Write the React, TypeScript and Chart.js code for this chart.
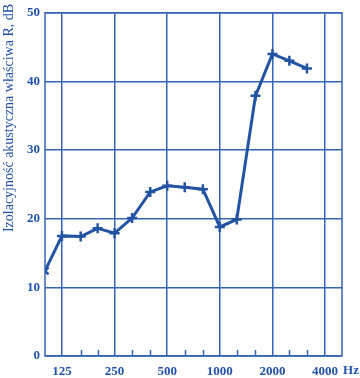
import React, { useEffect, useRef } from "react";
import { Chart, registerables } from "chart.js";

Chart.register(...registerables);

const frequencies = [100, 125, 160, 200, 250, 315, 400, 500, 630, 800, 1000, 1250, 1600, 2000, 2500, 3150];
const isolation = [12.4, 17.5, 17.4, 18.6, 17.9, 20.1, 23.9, 24.8, 24.6, 24.3, 18.8, 19.9, 37.9, 44.0, 43.0, 41.9];
const majorTicks = [125, 250, 500, 1000, 2000, 4000];
const minorTicks = [160, 200, 315, 400, 630, 800, 1250, 1600, 2500, 3150];
const yTicks = [0, 10, 20, 30, 40, 50];
const yTitle = "Izolacyjność akustyczna właściwa R, dB";
const unitLabel = "Hz";

const LINE = "#2353a3";
const GRID = "#3565b5";
const TEXT = "#2151a8";

export default function App() {
  const ref = useRef<HTMLCanvasElement>(null);
  useEffect(() => {
    const extras = {
      id: "extras",
      afterDraw(chart: any) {
        const { ctx, chartArea } = chart;
        const xs = chart.scales.x;
        ctx.save();
        ctx.strokeStyle = GRID;
        ctx.lineWidth = 1.5;
        ctx.strokeRect(chartArea.left, chartArea.top, chartArea.right - chartArea.left, chartArea.bottom - chartArea.top);
        ctx.beginPath();
        for (const f of minorTicks) {
          const px = Math.round(xs.getPixelForValue(f)) + 0.5;
          ctx.moveTo(px, chartArea.bottom);
          ctx.lineTo(px, chartArea.bottom - 6);
        }
        ctx.stroke();
        ctx.fillStyle = TEXT;
        ctx.font = "bold 13px 'Liberation Serif'";
        ctx.textBaseline = "middle";
        ctx.textAlign = "left";
        const p4000 = xs.getPixelForValue(4000);
        ctx.fillText(unitLabel, p4000 + 18, chartArea.bottom + 15);
        ctx.translate(9, 118);
        ctx.rotate(-Math.PI / 2);
        ctx.textAlign = "center";
        ctx.font = "14px 'Liberation Serif'";
        ctx.fillText(yTitle, 0, 0);
        ctx.restore();
      },
    };
    const chart = new Chart(ref.current!, {
      type: "line",
      data: {
        datasets: [
          {
            data: frequencies.map((f, i) => ({ x: f, y: isolation[i] })),
            borderColor: LINE,
            backgroundColor: LINE,
            borderWidth: 3,
            pointStyle: frequencies.map((_, i) => (i === 0 ? "crossRot" : "cross")) as any,
            pointRadius: 5,
            pointBorderWidth: 2.5,
            tension: 0,
          },
        ],
      },
      options: {
        animation: false,
        responsive: false,
        maintainAspectRatio: false,
        layout: { padding: { left: 0, top: 11, right: 18, bottom: 0 } },
        plugins: { legend: { display: false }, tooltip: { enabled: false } },
        scales: {
          x: {
            type: "logarithmic",
            min: 100,
            max: 5000,
            afterBuildTicks: (s: any) => {
              s.ticks = majorTicks.map((v) => ({ value: v }));
            },
            afterFit: (s: any) => {
              s.height = 22;
            },
            grid: { color: GRID, lineWidth: 1.5, drawTicks: false },
            border: { display: false },
            ticks: {
              color: TEXT,
              font: { family: "'Liberation Serif'", size: 13, weight: "bold" },
              padding: 8,
              maxRotation: 0,
              autoSkip: false,
              callback: (v: any) => String(v),
            },
          },
          y: {
            min: 0,
            max: 50,
            afterBuildTicks: (s: any) => {
              s.ticks = yTicks.map((v) => ({ value: v }));
            },
            afterFit: (s: any) => {
              s.width = 45;
            },
            grid: { color: GRID, lineWidth: 1.5, drawTicks: false },
            border: { display: false },
            ticks: {
              color: TEXT,
              font: { family: "'Liberation Serif'", size: 13, weight: "bold" },
              padding: 5,
            },
          },
        },
      },
      plugins: [extras],
    });
    return () => chart.destroy();
  }, []);
  return (
    <div style={{ position: "fixed", left: 0, top: 0, width: 360, height: 378, background: "#fff" }}>
      <canvas ref={ref} width={360} height={378} />
    </div>
  );
}
